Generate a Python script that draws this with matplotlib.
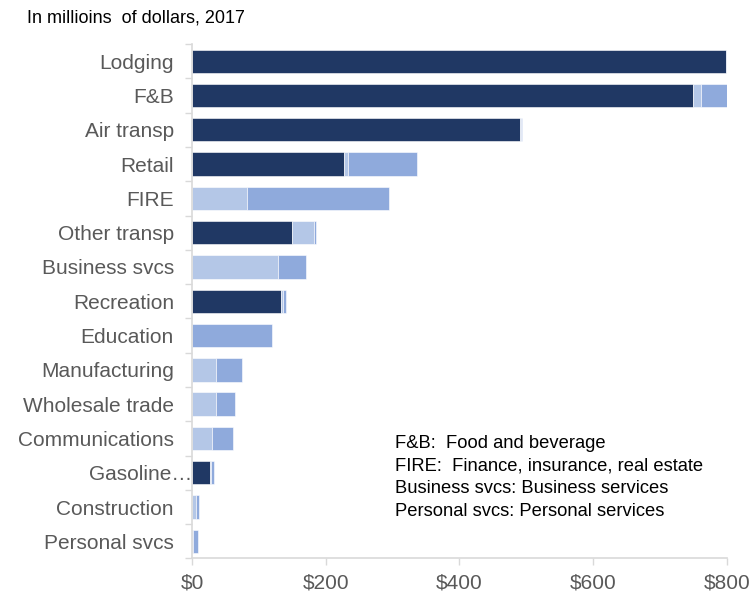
import numpy as np
import matplotlib
matplotlib.use("Agg")
import matplotlib.pyplot as plt
from matplotlib.transforms import ScaledTranslation

# Colour constants
color_direct = "#203864"
color_indirect = "#B4C7E7"
color_induced = "#8FAADC"
color_text = "#595959"
color_axis = "#D9D9D9"

plt.rcParams["font.family"] = ["Liberation Sans", "DejaVu Sans"]

# output by industry, millions of dollars (2017)
categories = ["Lodging", "F&B", "Air transp", "Retail", "FIRE", "Other transp", "Business svcs",
              "Recreation", "Education", "Manufacturing", "Wholesale trade", "Communications",
              "Gasoline\u2026", "Construction", "Personal svcs"]
direct = [799, 749, 491, 228, 0, 149, 0, 133, 0, 0, 0, 0, 27, 0, 0]
indirect = [1.5, 12, 1, 6, 83, 33, 128, 3, 0, 36, 36, 30, 1, 6, 2]
induced = [0, 41, 1, 103, 211, 4, 42, 5, 120, 39, 28.5, 31.5, 4.5, 5, 6.5]

xticks = [0, 200, 400, 600, 800]
xtick_labels = ["$0", "$200", "$400", "$600", "$800"]

notes = ["F&B:  Food and beverage",
         "FIRE:  Finance, insurance, real estate",
         "Business svcs: Business services",
         "Personal svcs: Personal services"]


def main():
    fig = plt.figure(figsize=(7.55, 5.94), dpi=100)
    ax = fig.add_axes([0.2543, 0.0598, 0.7085, 0.8661])

    y = np.arange(len(categories))
    d = np.array(direct)
    i = np.array(indirect)
    m = np.array(induced)
    h = 0.68
    ax.barh(y, d, height=h, color=color_direct, edgecolor="white", linewidth=0.4)
    ax.barh(y, i, height=h, left=d, color=color_indirect, edgecolor="white", linewidth=0.4)
    ax.barh(y, m, height=h, left=d + i, color=color_induced, edgecolor="white", linewidth=0.4)

    ax.set_ylim(len(categories) - 0.5, -0.5)
    ax.set_xlim(0, 800)

    # y axis: labels at bar centres, small ticks between categories
    ax.set_yticks(y)
    ax.set_yticklabels(categories, fontsize=15, color=color_text)
    ax.set_yticks(np.arange(len(categories) + 1) - 0.5, minor=True)
    ax.tick_params(axis="y", which="major", length=0, pad=13)
    ax.tick_params(axis="y", which="minor", length=5, width=1, color=color_axis)

    # the truncated label runs over the padding up to the axis
    for label in ax.get_yticklabels():
        if label.get_text().endswith("\u2026"):
            label.set_transform(label.get_transform() + ScaledTranslation(0.18, 0, fig.dpi_scale_trans))

    ax.set_xticks(xticks)
    ax.set_xticklabels(xtick_labels, fontsize=15, color=color_text)
    ax.tick_params(axis="x", which="major", length=5, width=1, color=color_axis, pad=6)

    for side in ["top", "right"]:
        ax.spines[side].set_visible(False)
    for side in ["left", "bottom"]:
        ax.spines[side].set_color(color_axis)
        ax.spines[side].set_linewidth(1.2)

    fig.text(27 / 755, 1 - 18 / 594, "In millioins  of dollars, 2017", fontsize=13, color="black",
             ha="left", va="center")

    for k, note in enumerate(notes):
        fig.text(395 / 755, 1 - (443 + k * 22.7) / 594, note, fontsize=13.2, color="black",
                 ha="left", va="center")

    fig.savefig("out.png", dpi=100)


if __name__ == "__main__":
    main()
